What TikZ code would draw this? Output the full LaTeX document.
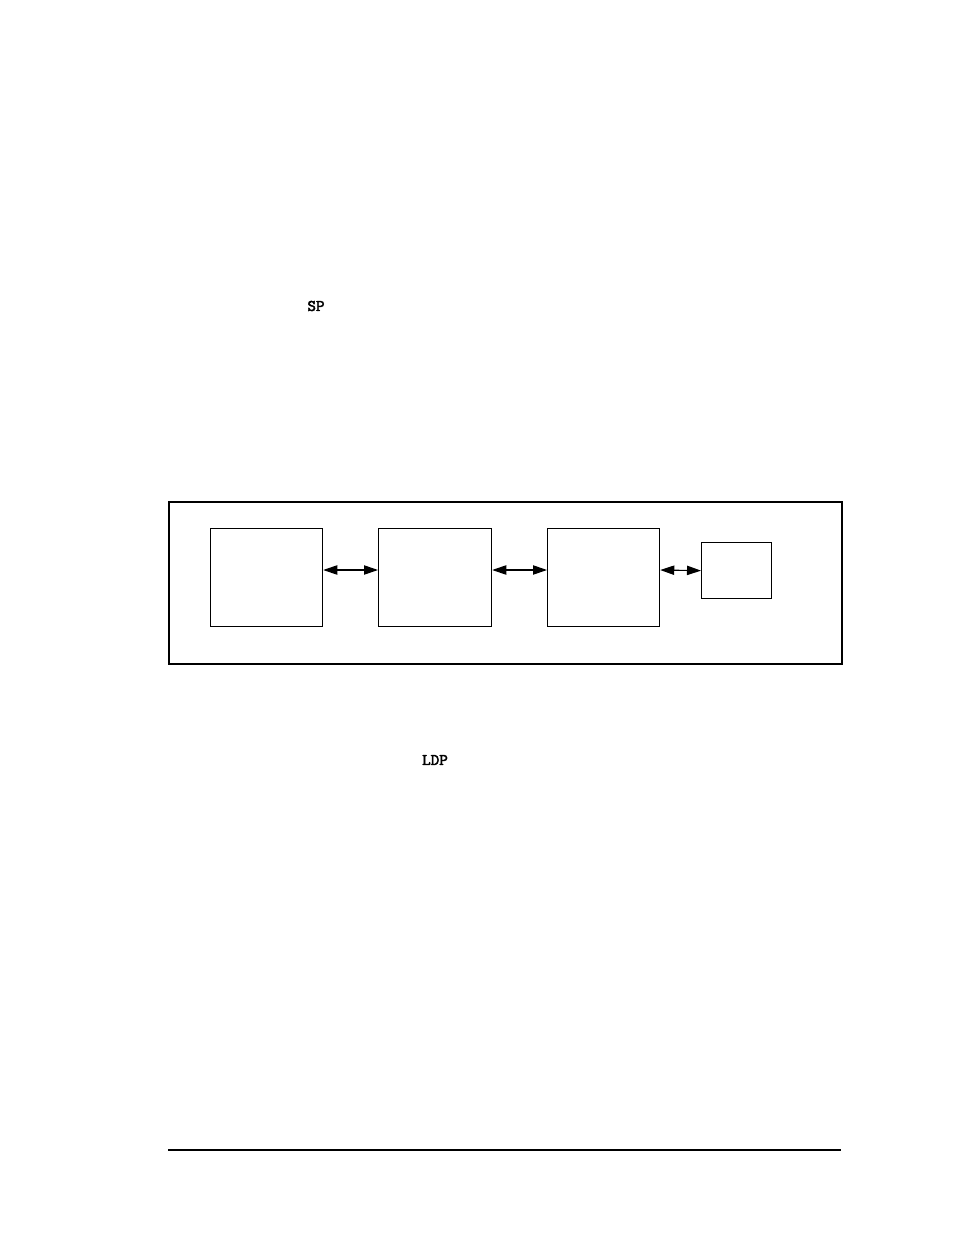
\documentclass[tikz,border=0pt]{standalone}
\usepackage{fontspec}
\newfontfamily\lblfont{Latin Modern Mono}[FakeBold=2.5]
\usetikzlibrary{arrows.meta}
\begin{document}
\begin{tikzpicture}[x=0.6428pt,y=-0.6428pt,
  blk/.style={draw,line width=0.8pt,inner sep=0pt,anchor=north west},
  lbl/.style={font=\lblfont\fontsize{10.5}{12}\selectfont,inner sep=0pt},
  dbl/.style={line width=0.7pt,{Triangle[length=9pt,width=6pt]}-{Triangle[length=9pt,width=6pt]}}]
\useasboundingbox (0,0) rectangle (954,1235);
\node[lbl] (sp) at (316,306) {SP};
\node[lbl] (ldp) at (435,760) {LDP};
\node[draw,line width=1.3pt,inner sep=0pt,anchor=north west,minimum width=673*0.6428pt,minimum height=162*0.6428pt] (frame) at (168,501) {};
\node[blk,minimum width=112*0.6428pt,minimum height=98*0.6428pt] (b1) at (210,528) {};
\node[blk,minimum width=113*0.6428pt,minimum height=98*0.6428pt] (b2) at (378,528) {};
\node[blk,minimum width=112*0.6428pt,minimum height=98*0.6428pt] (b3) at (547,528) {};
\node[blk,minimum width=70*0.6428pt,minimum height=56*0.6428pt] (b4) at (701,542) {};
\draw[dbl] (b1.east |- 0,570) -- (b2.west |- 0,570);
\draw[dbl] (b2.east |- 0,570) -- (b3.west |- 0,570);
\draw[dbl] (b3.east |- 0,570) -- (b4.west);
\coordinate (fl) at (168,1150);
\coordinate (fr) at (841,1150);
\draw[line width=0.8pt] (fl) -- (fr);
\end{tikzpicture}
\end{document}
